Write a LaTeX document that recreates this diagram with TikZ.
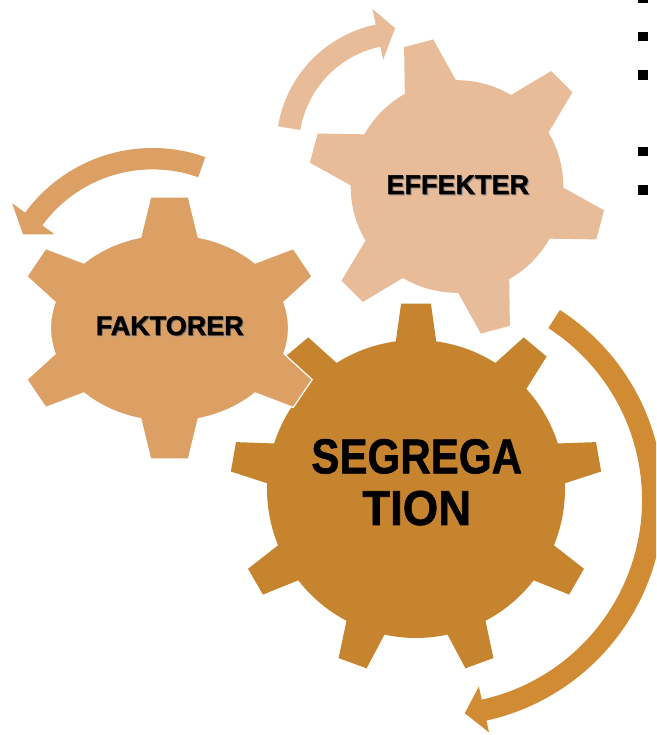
\documentclass[tikz,border=0pt]{standalone}
\usepackage{fontspec}
\setmainfont{Liberation Sans}
\newfontfamily\lblfont[BoldFeatures={FakeBold=1.2}]{Liberation Sans}
\definecolor{segc}{HTML}{C7842F}
\definecolor{segarrow}{HTML}{D08B33}
\definecolor{fakc}{HTML}{DC9F64}
\definecolor{effc}{HTML}{E8BB99}
% #1 options, #2 rx, #3 ry, #4 tip rx, #5 tip ry, #6 teeth, #7 start angle, #8 base half angle, #9 tip half angle
\newcommand\gearfill[9]{%
  \fill[#1] ({#7-#8}:#2pt and #3pt)
  \foreach \i in {1,...,#6}{
    -- ({#7+(\i-1)*360/#6-#9}:#4pt and #5pt)
    -- ({#7+(\i-1)*360/#6+#9}:#4pt and #5pt)
    -- ({#7+(\i-1)*360/#6+#8}:#2pt and #3pt)
    arc[start angle={#7+(\i-1)*360/#6+#8}, end angle={#7+\i*360/#6-#8}, x radius=#2pt, y radius=#3pt]
  } -- cycle;}
% text with a soft drop shadow, all in one box: #1 shadow colour, #2 text
\newcommand\shadowed[2]{%
  \rlap{\kern1.6pt\raisebox{-1.6pt}{\textcolor{#1!55}{#2}}}%
  \rlap{\kern0.8pt\raisebox{-0.8pt}{\textcolor{#1}{#2}}}%
  #2}
\colorlet{fakshadow}{black!45!fakc}
\colorlet{effshadow}{black!45!effc}
\tikzset{
  smalllbl/.style={anchor=base, inner sep=0pt, font=\lblfont\bfseries\fontsize{27}{30}\selectfont},
  biglbl/.style={anchor=base, inner sep=0pt, font=\lblfont\bfseries\fontsize{49}{55}\selectfont},
  bulletsq/.style={rectangle, fill=black, draw=none, inner sep=0pt, minimum size=9.4pt}
}
\begin{document}
\begin{tikzpicture}[x=1pt,y=1pt]
\useasboundingbox (0,0) rectangle (656,735);
\clip (0,0) rectangle (656,735);
% arrows
\fill[segarrow, shift={(437.5,235)}] (57.2:226pt) arc[start angle=57.2, end angle=-77.5, radius=226pt]
  -- (-77.5:238pt) -- (-82.7:215pt) -- (-77.5:191pt) -- (-77.5:204.5pt)
  arc[start angle=-77.5, end angle=57.2, radius=204.5pt] -- cycle;
\fill[fakc, shift={(152.6,429)}] (70.5:158pt) arc[start angle=70.5, end angle=143.8, radius=158pt]
  -- (143.8:174pt) -- (151.1:148pt) -- (143.8:121.5pt) -- (143.8:136.6pt)
  arc[start angle=143.8, end angle=70.5, radius=136.6pt] -- cycle;
\fill[effc, shift={(401.3,588.1)}] (170.5:125pt) arc[start angle=170.5, end angle=101.8, radius=125pt]
  -- (101.8:141pt) -- (93:118.8pt) -- (101.8:89pt) -- (101.8:102.4pt)
  arc[start angle=101.8, end angle=170.5, radius=102.4pt] -- cycle;
% gears
\gearfill{segc, shift={(416,246)}}{149}{149}{186}{186}{9}{90}{7.8}{4.6}
\gearfill{fill=fakc, draw=white, line width=1.2pt, shift={(169.5,407)}}{119}{93.5}{155}{132}{6}{90}{14}{7}
\gearfill{effc, shift={(457,548.5)}}{106.3}{106.3}{149}{149}{6}{105}{14.4}{5.8}
% labels
\node[smalllbl] (fak) at (169.7,400) {\shadowed{fakshadow}{FAKTORER}};
\node[smalllbl] (eff) at (457.7,541) {\shadowed{effshadow}{EFFEKTER}};
\node[biglbl] (seg1) at (416.7,261.7) {\scalebox{0.86}[1]{SEGREGA}};
\node[biglbl] (seg2) at (416.7,210) {\scalebox{0.93}[1]{TION}};
% bullets
\node[bulletsq] (b1) at (643,737) {};
\node[bulletsq] (b2) at (643,698.5) {};
\node[bulletsq] (b3) at (643,660) {};
\node[bulletsq] (b4) at (643,583.5) {};
\node[bulletsq] (b5) at (643,545) {};
\end{tikzpicture}
\end{document}
